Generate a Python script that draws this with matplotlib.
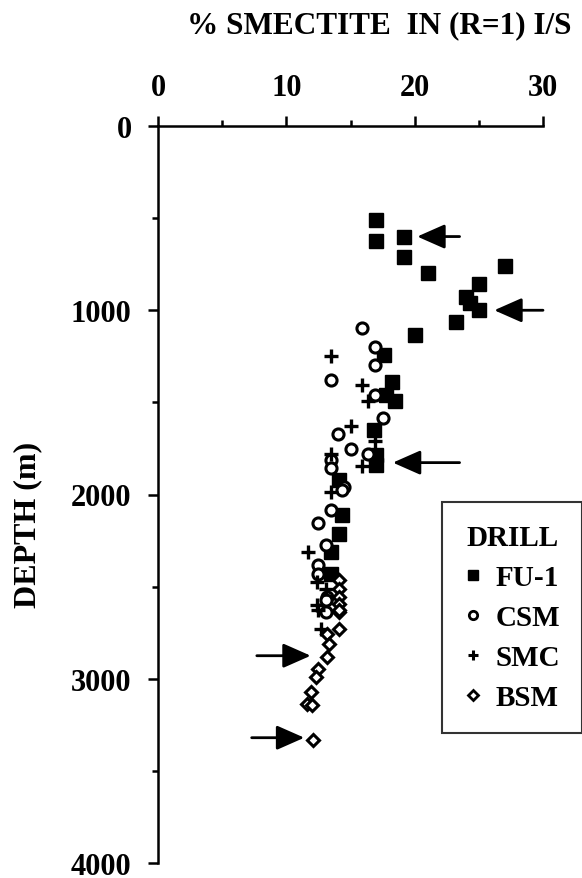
import numpy as np
import matplotlib.pyplot as plt
from matplotlib.lines import Line2D
from matplotlib.ticker import MultipleLocator

# % smectite in (R=1) I/S vs depth, four drill holes
fu1_pct = [17.0, 17.0, 19.2, 19.2, 21.0, 27.0, 25.0, 24.0, 24.3, 25.0, 23.2, 20.0,
           17.6, 18.2, 17.8, 18.5, 16.8, 17.0, 17.0, 14.1, 14.3, 14.1, 13.5, 13.5]
fu1_depth = [510, 625, 600, 710, 800, 760, 860, 930, 960, 1000, 1065, 1135,
             1243, 1389, 1459, 1492, 1648, 1784, 1838, 1919, 2113, 2216, 2314, 2432]

csm_pct = [15.9, 16.9, 16.9, 13.5, 16.9, 17.5, 14.0, 15.0, 16.4, 13.5, 13.5, 14.5,
           14.3, 13.5, 12.5, 13.1, 12.5, 12.5, 13.2, 13.1, 13.1]
csm_depth = [1097, 1200, 1297, 1378, 1459, 1584, 1670, 1751, 1778, 1811, 1854, 1962,
             1973, 2086, 2157, 2276, 2384, 2432, 2557, 2573, 2638]

smc_pct = [13.5, 15.9, 16.4, 15.0, 16.9, 13.5, 15.9, 13.5, 11.7, 12.4, 13.1, 12.4,
           12.5, 12.7]
smc_depth = [1249, 1405, 1492, 1627, 1708, 1778, 1843, 1989, 2314, 2476, 2514, 2600,
             2627, 2730]

bsm_pct = [14.1, 14.1, 14.1, 14.1, 14.1, 14.1, 14.1, 13.2, 13.3, 13.2, 12.5, 12.3,
           11.9, 11.6, 12.0, 12.1]
bsm_depth = [2465, 2514, 2557, 2595, 2638, 2627, 2730, 2757, 2811, 2881, 2946, 2989,
             3070, 3135, 3140, 3330]

# arrows: (tail x, head x, depth)
arrow_tail = [23.5, 30.0, 23.5, 7.7, 7.3]
arrow_head = [20.2, 26.2, 18.3, 11.9, 11.4]
arrow_depth = [600, 1000, 1827, 2875, 3320]

plt.rcParams['font.family'] = ['Liberation Serif', 'DejaVu Serif']
plt.rcParams['font.weight'] = 'bold'

fig = plt.figure(figsize=(5.82, 8.79), dpi=100)
ax = fig.add_axes([158/582, 1 - 864/879, (543 - 158)/582, (864 - 127)/879])

ax.plot(fu1_pct, fu1_depth, 's', color='black', ms=9.5, ls='none', label='FU-1')
ax.plot(csm_pct, csm_depth, 'o', mfc='white', mec='black', mew=2.2, ms=8, ls='none', label='CSM')
ax.plot(smc_pct, smc_depth, '+', color='black', mew=2.4, ms=10, ls='none', label='SMC')
ax.plot(bsm_pct, bsm_depth, 'D', mfc='white', mec='black', mew=2.2, ms=6.5, ls='none', label='BSM')

for t, h, d in zip(arrow_tail, arrow_head, arrow_depth):
    ax.annotate('', xy=(h, d), xytext=(t, d),
                arrowprops=dict(arrowstyle='-|>,head_length=1.7,head_width=0.75',
                                color='black', lw=2, shrinkA=0, shrinkB=0))

ax.set_xlim(0, 30)
ax.set_ylim(4000, 0)
ax.xaxis.tick_top()
ax.xaxis.set_major_locator(MultipleLocator(10))
ax.xaxis.set_minor_locator(MultipleLocator(5))
ax.yaxis.set_major_locator(MultipleLocator(1000))
ax.yaxis.set_minor_locator(MultipleLocator(500))
for s in ['right', 'bottom']:
    ax.spines[s].set_visible(False)
for s in ['left', 'top']:
    ax.spines[s].set_linewidth(1.8)
ax.tick_params(which='major', direction='out', length=7, width=1.8, labelsize=22)
ax.tick_params(axis='y', which='major', pad=12)
ax.tick_params(axis='x', which='major', pad=10)
ax.tick_params(which='minor', direction='out', length=4, width=1.8)
for lab in ax.get_xticklabels() + ax.get_yticklabels():
    lab.set_fontweight('bold')

fig.text(379/582, 1 - 26/879, '% SMECTITE  IN (R=1) I/S', ha='center', va='center',
         fontsize=22.5, fontweight='bold')
fig.text(28/582, 1 - 525/879, 'DEPTH (m)', rotation=90, ha='center', va='center',
         fontsize=23, fontweight='bold')

handles = [Line2D([], [], marker='s', color='black', ms=7, ls='none'),
           Line2D([], [], marker='o', mfc='white', mec='black', mew=2, ms=6, ls='none'),
           Line2D([], [], marker='+', color='black', mew=2.2, ms=7.5, ls='none'),
           Line2D([], [], marker='D', mfc='white', mec='black', mew=2, ms=5, ls='none')]
leg = fig.legend(handles, ['FU-1', 'CSM', 'SMC', 'BSM'], title='DRILL',
                 loc='upper left', bbox_to_anchor=(442/582, 1 - 503/879),
                 bbox_transform=fig.transFigure, borderaxespad=0,
                 frameon=True, fancybox=False, edgecolor='black',
                 prop={'size': 21, 'weight': 'bold'}, title_fontproperties={'size': 21, 'weight': 'bold'},
                 handlelength=0.6, handletextpad=0.5, labelspacing=0.45, borderpad=0.75)
leg.get_frame().set_linewidth(1.5)

fig.savefig('out.png', dpi=100)
